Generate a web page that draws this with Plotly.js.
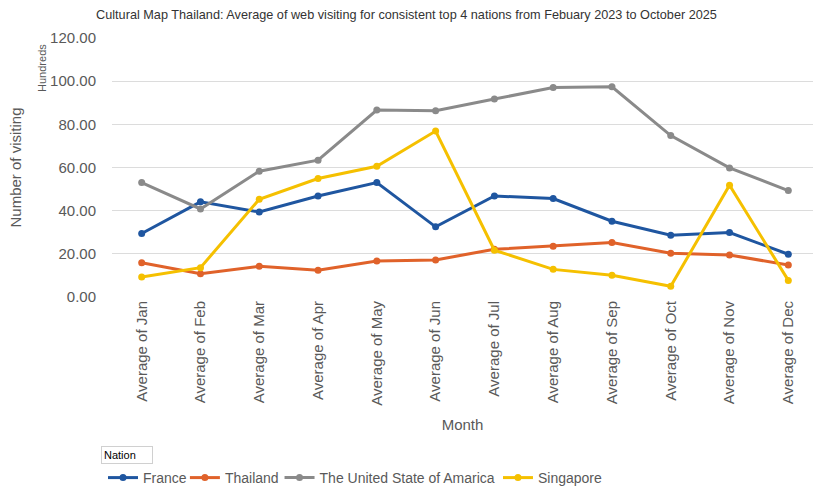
<!DOCTYPE html>
<html>
<head>
<meta charset="utf-8">
<script src="https://cdn.plot.ly/plotly-3.0.1.min.js"></script>
<style>html,body{margin:0;padding:0;background:#fff;}#chart{width:813px;height:488px;}</style>
</head>
<body>
<div id="chart"></div>
<script>
var months = ["Average of Jan","Average of Feb","Average of Mar","Average of Apr","Average of May","Average of Jun","Average of Jul","Average of Aug","Average of Sep","Average of Oct","Average of Nov","Average of Dec"];
var france = [29.4, 44.1, 39.4, 46.8, 53.0, 32.5, 46.8, 45.6, 35.1, 28.6, 29.9, 19.8];
var thailand = [15.9, 10.8, 14.2, 12.4, 16.7, 17.2, 22.1, 23.5, 25.2, 20.3, 19.5, 14.8];
var usa = [53.0, 40.8, 58.3, 63.4, 86.6, 86.3, 91.7, 97.1, 97.4, 74.8, 59.8, 49.3];
var singapore = [9.3, 13.6, 45.3, 54.9, 60.6, 76.9, 21.7, 12.8, 10.1, 5.0, 51.8, 7.7];
var seriesNames = ["France","Thailand","The United State of Amarica","Singapore"];
var colors = ["#1F56A0","#E0622A","#8A8A8A","#F5C000"];
var yTicks = [0,20,40,60,80,100,120];

var legendIds = ['legend','legend2','legend3','legend4'];
var legendX = [-0.0128, 0.104, 0.239, 0.5506];

var allData = [france, thailand, usa, singapore];
var traces = allData.map(function(d, i){
  return {
    x: months, y: d, name: seriesNames[i], type: 'scatter', mode: 'lines+markers',
    line: {color: colors[i], width: 3},
    marker: {color: colors[i], size: 7},
    legend: legendIds[i]
  };
});

var layout = {
  width: 813, height: 488,
  paper_bgcolor: '#fff', plot_bgcolor: '#fff',
  font: {family: 'Liberation Sans, Arial, sans-serif', color: '#595959'},
  margin: {l: 112, r: 0, t: 38, b: 191},
  title: {text: 'Cultural Map Thailand: Average of web visiting for consistent top 4 nations from Febuary 2023 to October 2025',
          font: {size: 12.7, color: '#333333', family: 'Liberation Sans, Arial, sans-serif'},
          x: 0.5, xanchor: 'center', y: 0.97, yanchor: 'middle', yref: 'container'},
  xaxis: {
    type: 'category', range: [-0.505, 11.42], automargin: false,
    tickangle: -90, tickfont: {size: 15, color: '#595959'},
    showgrid: false, showline: false, zeroline: false, ticks: '',
    title: {text: 'Month', font: {size: 15, color: '#595959'}, standoff: 14}
  },
  yaxis: {
    range: [0, 120], automargin: false, tickvals: yTicks, ticktext: yTicks.map(function(v){return v.toFixed(2);}),
    tickfont: {size: 15, color: '#595959'},
    showgrid: true, gridcolor: '#DCDCDC', gridwidth: 1, zeroline: false, showline: false,
    ticks: 'outside', ticklen: 12, tickcolor: 'rgba(0,0,0,0)',
    title: {text: 'Number of visiting', font: {size: 15, color: '#595959'}, standoff: 24}
  },
  showlegend: true,
  annotations: [
    {text: 'Hundreds', xref: 'paper', yref: 'paper', x: -0.1, y: 0.884, textangle: -90,
     showarrow: false, font: {size: 11, color: '#595959'}, xanchor: 'center', yanchor: 'middle'},
    {text: 'Nation', xref: 'paper', yref: 'paper', x: -0.016, y: -0.61, showarrow: false,
     font: {size: 11, color: '#000'}, xanchor: 'left', yanchor: 'middle',
     bordercolor: '#D0D0D0', borderwidth: 1, borderpad: 2, width: 46, align: 'left'}
  ]
};
legendIds.forEach(function(id, i){
  layout[id] = {orientation: 'h', x: legendX[i], xanchor: 'left', xref: 'paper',
                y: 0.0205, yanchor: 'middle', yref: 'container',
                font: {size: 14, color: '#595959'}, itemwidth: 30, bgcolor: 'rgba(0,0,0,0)'};
});

Plotly.newPlot('chart', traces, layout, {displayModeBar: false, staticPlot: true});
</script>
</body>
</html>
